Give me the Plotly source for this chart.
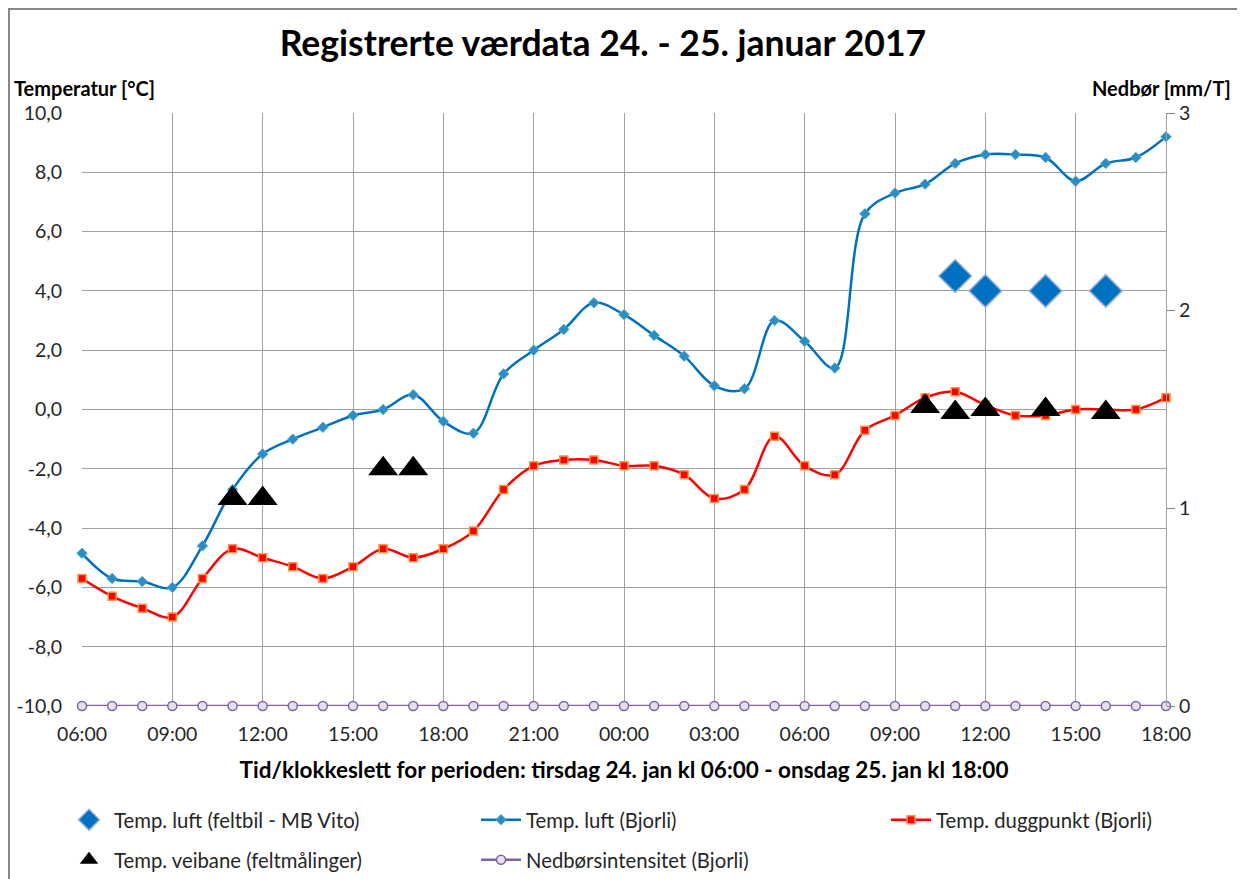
import plotly.graph_objects as go
import pandas as pd

# ---- data ----
times = [t.strftime("%Y-%m-%d %H:%M") for t in pd.date_range("2017-01-24 06:00", "2017-01-25 18:00", freq="h")]

temp_luft_bjorli = [-4.85, -5.7, -5.8, -6.0, -4.6, -2.7, -1.5, -1.0, -0.6, -0.2, 0.0, 0.5, -0.4, -0.8,
                    1.2, 2.0, 2.7, 3.6, 3.2, 2.5, 1.8, 0.8, 0.7, 3.0, 2.3, 1.4, 6.6, 7.3, 7.6, 8.3,
                    8.6, 8.6, 8.5, 7.7, 8.3, 8.5, 9.2]
temp_dugg_bjorli = [-5.7, -6.3, -6.7, -7.0, -5.7, -4.7, -5.0, -5.3, -5.7, -5.3, -4.7, -5.0, -4.7, -4.1,
                    -2.7, -1.9, -1.7, -1.7, -1.9, -1.9, -2.2, -3.0, -2.7, -0.9, -1.9, -2.2, -0.7, -0.2,
                    0.4, 0.6, 0.15, -0.2, -0.2, 0.0, 0.0, 0.0, 0.4]
nedbor_bjorli = [0.0] * 37

feltbil_times = ["2017-01-25 11:00", "2017-01-25 12:00", "2017-01-25 14:00", "2017-01-25 16:00"]
feltbil_temp = [4.5, 4.0, 4.0, 4.0]

veibane_times = ["2017-01-24 11:00", "2017-01-24 12:00", "2017-01-24 16:00", "2017-01-24 17:00",
                 "2017-01-25 10:00", "2017-01-25 11:00", "2017-01-25 12:00", "2017-01-25 14:00",
                 "2017-01-25 16:00"]
veibane_temp = [-3.0, -3.0, -2.0, -2.0, 0.1, -0.1, 0.0, 0.0, -0.1]

left_ticks = [-10, -8, -6, -4, -2, 0, 2, 4, 6, 8, 10]
left_ticktext = [f"{v:.1f}".replace(".", ",") for v in left_ticks]
right_ticks = [0, 1, 2, 3]

FONT = "Lato"
TXT = "#262626"
OFF = 8  # page body margin in the browser

fig = go.Figure()

fig.add_trace(go.Scatter(
    x=feltbil_times, y=feltbil_temp, name="Temp. luft (feltbil - MB Vito)", mode="markers",
    marker=dict(symbol="diamond", size=25, color="#0070C0", line=dict(color="#8EA9DB", width=1.5)),
    cliponaxis=False, legend="legend"))

fig.add_trace(go.Scatter(
    x=times, y=temp_luft_bjorli, name="Temp. luft (Bjorli)", mode="lines+markers",
    line=dict(color="#0070C0", width=2.5, shape="spline", smoothing=1.0),
    marker=dict(symbol="diamond", size=8, color="#2E8CC4", line=dict(color="#4BACC6", width=1)),
    cliponaxis=False, legend="legend2"))

fig.add_trace(go.Scatter(
    x=times, y=temp_dugg_bjorli, name="Temp. duggpunkt (Bjorli)", mode="lines+markers",
    line=dict(color="#FF0000", width=2.5, shape="spline", smoothing=1.0),
    marker=dict(symbol="square", size=8, color="#FF0000", line=dict(color="#F79646", width=1.5)),
    cliponaxis=False, legend="legend3"))

fig.add_trace(go.Scatter(
    x=times, y=nedbor_bjorli, name="Nedbørsintensitet (Bjorli)", mode="lines+markers", yaxis="y2",
    line=dict(color="#8064A2", width=2.5),
    marker=dict(symbol="circle", size=9, color="#E6E0EC", line=dict(color="#8064A2", width=1.5)),
    cliponaxis=False, legend="legend5"))

fig.add_trace(go.Scatter(
    x=veibane_times, y=veibane_temp, name="Temp. veibane (feltmålinger)", mode="markers",
    marker=dict(symbol="triangle-up", size=26, color="#000000"),
    cliponaxis=False, legend="legend4"))

W, H = 1245, 879
# target plot area in page pixels: x 82..1166, y 113..706
L = 82 - OFF
T = 113 - OFF
R = W + OFF - 1166
B = H + OFF - 706
pw, ph = W - L - R, H - T - B

def px_x(px):  # page pixel -> paper x
    return (px - OFF - L) / pw

def px_y(py):  # page pixel -> paper y
    return (H - B - (py - OFF)) / ph

legend_common = dict(font=dict(family=FONT, size=20.3, color=TXT), bgcolor="rgba(0,0,0,0)",
                     xanchor="left", yanchor="middle", itemwidth=40, orientation="v", visible=True)

fig.update_layout(
    width=W, height=H,
    margin=dict(l=L, r=R, t=T, b=B, autoexpand=False),
    paper_bgcolor="white", plot_bgcolor="white",
    showlegend=True,
    separators=", ",
    font=dict(family=FONT, size=19, color=TXT),
    title=dict(text="<b>Registrerte værdata 24. - 25. januar 2017</b>",
               x=px_x(600), xanchor="center", y=1 - (44 - OFF) / H, yanchor="middle",
               font=dict(family=FONT, size=35.5, color="#000000")),
    xaxis=dict(type="date", range=[times[0], times[-1]], tickformat="%H:%M",
               dtick=3 * 3600000, tick0=times[0], showgrid=True, gridcolor="#A0A0A0", gridwidth=1,
               ticks="", ticklabelstandoff=14, zeroline=False, automargin=False,
               showline=False, tickfont=dict(size=19.5, color=TXT),
               title=dict(text="<b>Tid/klokkeslett for perioden: tirsdag 24. jan kl 06:00 - onsdag 25. jan kl 18:00</b>",
                          font=dict(size=22.5, color="#000000"), standoff=18)),
    yaxis=dict(range=[-10, 10], tickvals=left_ticks, ticktext=left_ticktext, showgrid=True,
               gridcolor="#A0A0A0", gridwidth=1, zeroline=False, ticks="", ticklabelstandoff=19,
               tickfont=dict(size=19.5, color=TXT), showline=False, automargin=False),
    yaxis2=dict(range=[0, 3], tickvals=right_ticks, overlaying="y", side="right", showgrid=False,
                zeroline=False, ticks="outside", ticklen=8, tickcolor="#808080", automargin=False,
                showline=True, linecolor="#A0A0A0", linewidth=1,
                tickfont=dict(size=19.5, color=TXT)),
    legend=dict(x=px_x(64), y=px_y(820), **legend_common),
    legend2=dict(x=px_x(476), y=px_y(820), **legend_common),
    legend3=dict(x=px_x(886), y=px_y(820), **legend_common),
    legend4=dict(x=px_x(64), y=px_y(860), **legend_common),
    legend5=dict(x=px_x(476), y=px_y(860), **legend_common),
    annotations=[
        dict(text="<b>Temperatur [°C]</b>", x=px_x(12), y=px_y(88), xref="paper", yref="paper",
             xanchor="left", yanchor="middle", showarrow=False, font=dict(family=FONT, size=20, color="#000000")),
        dict(text="<b>Nedbør [mm/T]</b>", x=px_x(1233), y=px_y(88), xref="paper", yref="paper",
             xanchor="right", yanchor="middle", showarrow=False, font=dict(family=FONT, size=20, color="#000000")),
    ],
    shapes=[
        dict(type="line", xref="paper", yref="paper", x0=px_x(7), x1=px_x(1260), y0=px_y(9), y1=px_y(9),
             line=dict(color="#888888", width=2)),
        dict(type="line", xref="paper", yref="paper", x0=px_x(9), x1=px_x(9), y0=px_y(8), y1=px_y(890),
             line=dict(color="#888888", width=2)),
    ],
)

fig.write_html("out.html")
